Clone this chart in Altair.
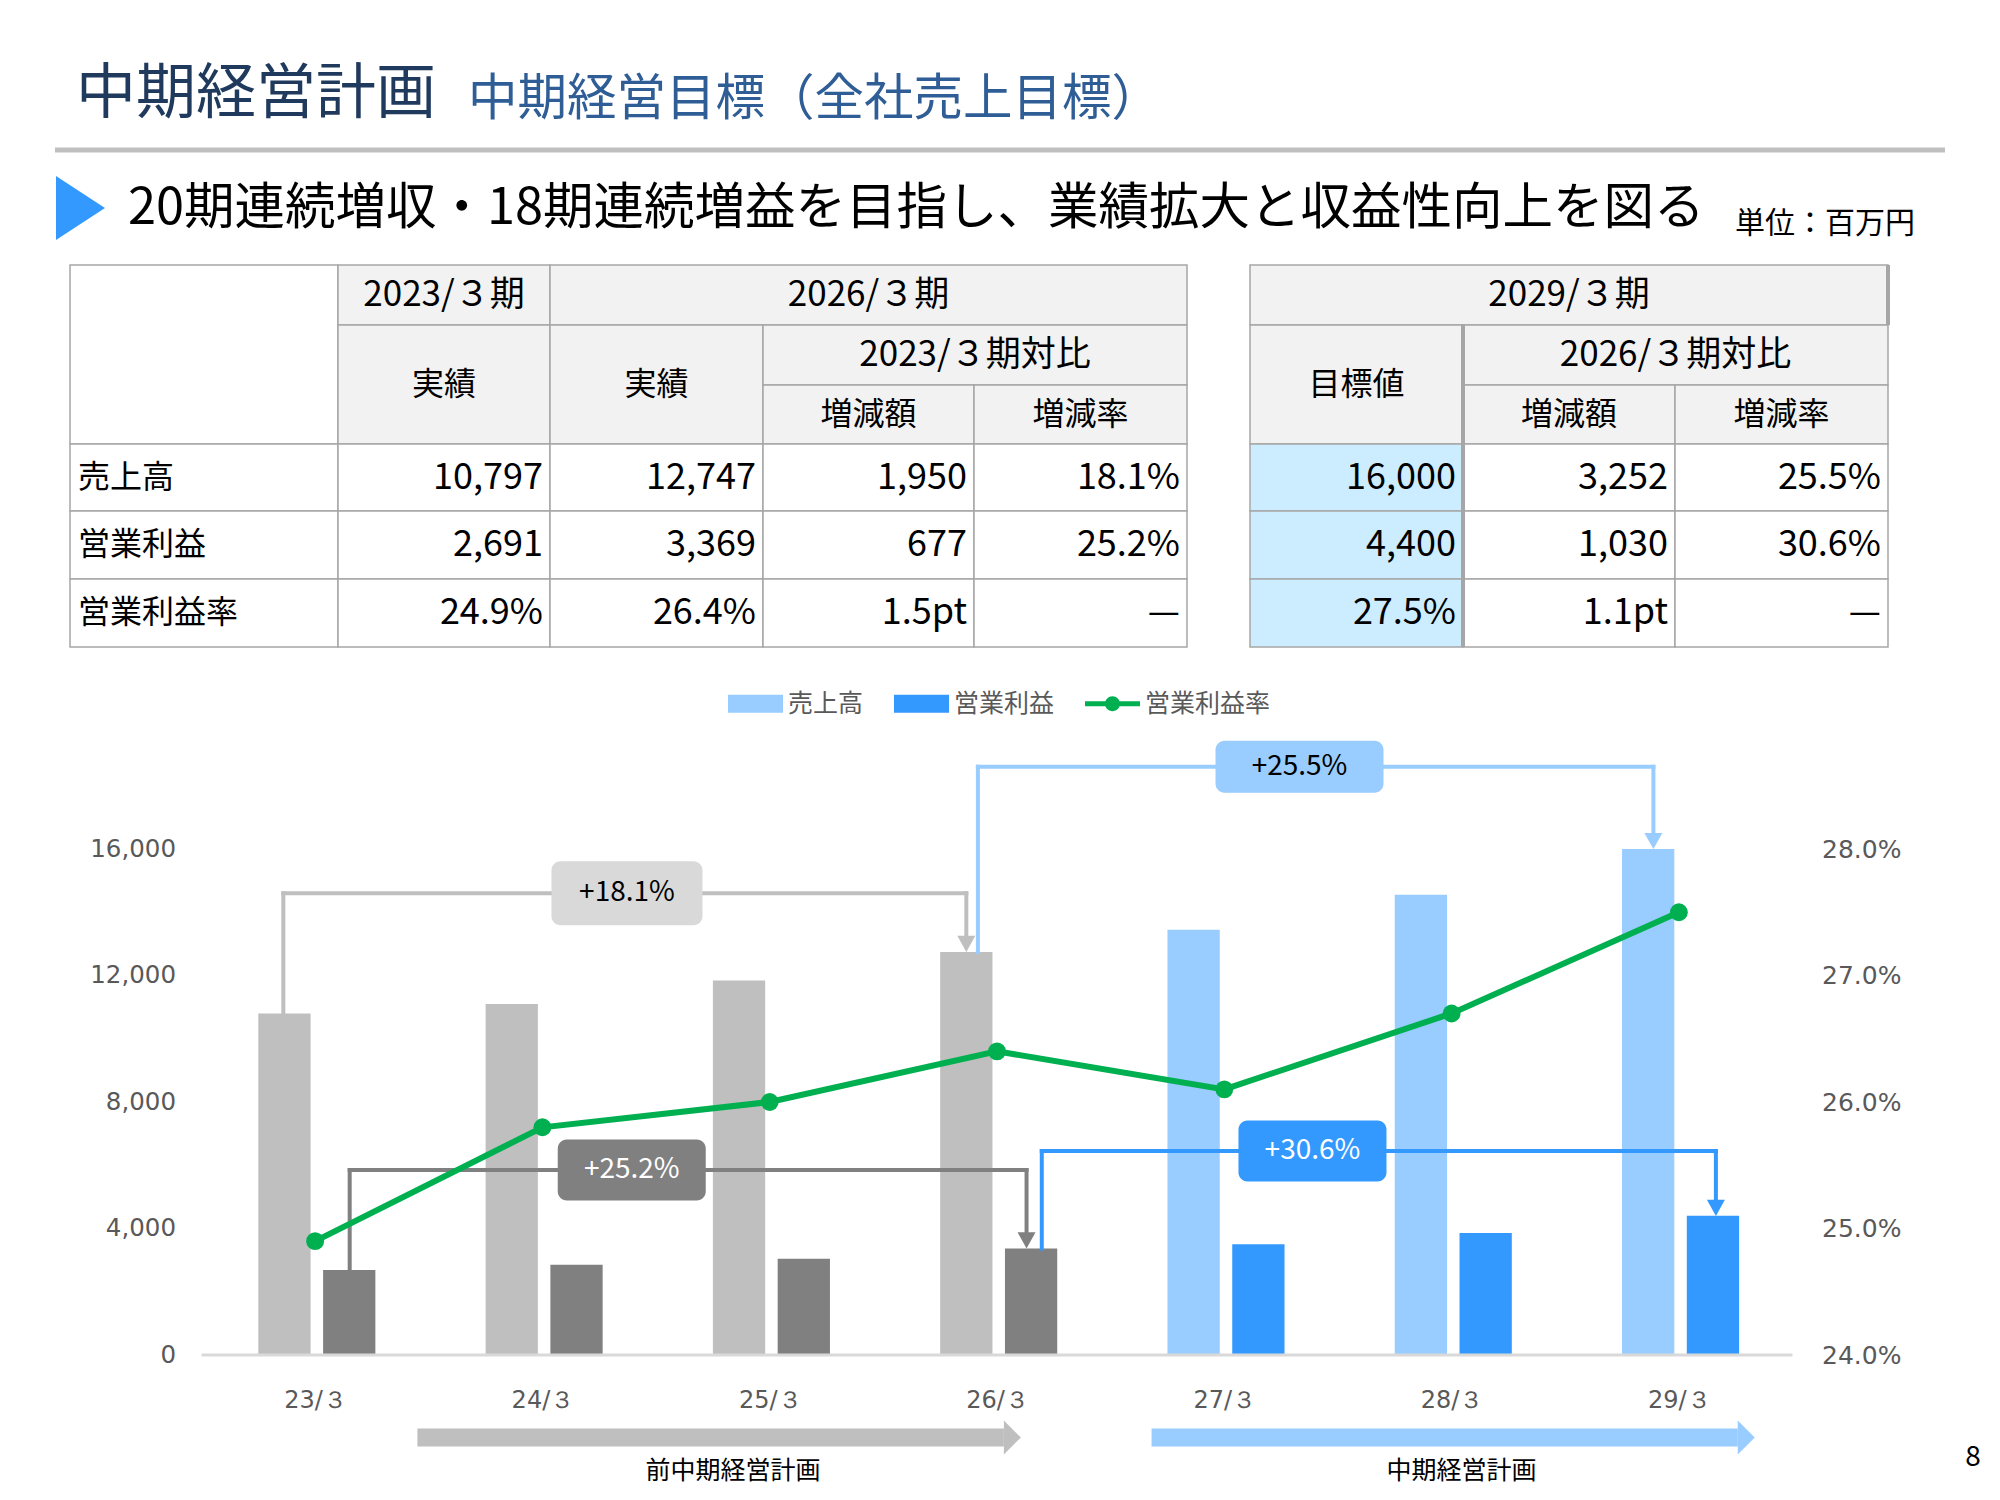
import altair as alt
import pandas as pd

# ------------------------------------------------------------------ chart data
periods = ["23/３", "24/３", "25/３", "26/３", "27/３", "28/３", "29/３"]
sales = [10797, 11100, 11840, 12747, 13450, 14550, 16000]
op_profit = [2691, 2850, 3040, 3369, 3500, 3860, 4400]
op_margin = [24.9, 25.8, 26.0, 26.4, 26.1, 26.7, 27.5]
plan_flags = [False, False, False, False, True, True, True]

series_names = ["売上高", "営業利益", "営業利益率"]

growth_labels = ["+18.1%", "+25.2%", "+25.5%", "+30.6%"]
growth_series = ["sales", "op", "sales", "op"]
growth_from = [0, 0, 3, 3]
growth_to = [3, 3, 6, 6]

phase_names = ["前中期経営計画", "中期経営計画"]

y_ticks = [0, 4000, 8000, 12000, 16000]
margin_ticks = [24, 25, 26, 27, 28]

# ------------------------------------------------------------------ text / table data
title_main = "中期経営計画"
title_sub = "中期経営目標（全社売上目標）"
headline = "20期連続増収・18期連続増益を目指し、業績拡大と収益性向上を図る"
unit_label = "単位：百万円"
page_no = "8"

row_labels = ["売上高", "営業利益", "営業利益率"]
res_2023 = ["10,797", "2,691", "24.9%"]
res_2026 = ["12,747", "3,369", "26.4%"]
chg_2026 = ["1,950", "677", "1.5pt"]
rate_2026 = ["18.1%", "25.2%", "—"]
target_2029 = ["16,000", "4,400", "27.5%"]
chg_2029 = ["3,252", "1,030", "1.1pt"]
rate_2029 = ["25.5%", "30.6%", "—"]

hdr_2023 = "2023/３期"
hdr_2026 = "2026/３期"
hdr_2029 = "2029/３期"
hdr_result = "実績"
hdr_vs2023 = "2023/３期対比"
hdr_vs2026 = "2026/３期対比"
hdr_target = "目標値"
hdr_chg = "増減額"
hdr_rate = "増減率"

# ------------------------------------------------------------------ layout / style
W, H = 2000, 1500
X0, X1 = 201.5, 1792.5
YZ, YT = 1355.0, 849.0
X_PX = (X1 - X0) / 7
Y_PX = (YZ - YT) / 16000

FONT_JP = "Noto Sans CJK JP"
FONT_AX = "DejaVu Sans"
AX_COLOR = "#595959"

PAST_COLORS = ("#BFBFBF", "#808080")
PLAN_COLORS = ("#99CCFF", "#3399FF")
GREEN = "#00B050"
LIGHT_OFF = (-0.25, -0.02)
DARK_OFF = (0.035, 0.265)

BRACKET_STYLE = [
    dict(from_off=-0.14, to_off=-0.135, level=14600, line="#BFBFBF", box="#D9D9D9", text="#000000", bx=1.372, bw=151, bh=64),
    dict(from_off=0.152, to_off=0.13, level=5850, line="#808080", box="#808080", text="#FFFFFF", bx=1.393, bw=148, bh=61),
    dict(from_off=-0.084, to_off=-0.112, level=18600, line="#99CCFF", box="#99CCFF", text="#000000", bx=4.331, bw=168, bh=52),
    dict(from_off=0.197, to_off=0.163, level=6450, line="#3399FF", box="#3399FF", text="#FFFFFF", bx=4.388, bw=148, bh=61),
]

PHASE_SPANS = [(0.45, 3.105), (3.68, 6.334)]
PHASE_COLORS = ["#BFBFBF", "#99CCFF"]
PHASE_LABEL_X = [1.838, 5.044]
HEAD_LEN = 17 / X_PX
ARROW_Y = -(1437.5 - YZ) / Y_PX
PHASE_LABEL_Y = -(1471 - YZ) / Y_PX

DOWN_PATH = "M-1,-0.9L1,-0.9L0,0.9Z"
RIGHT_PATH = "M-0.5,-1L0.5,0L-0.5,1Z"
RECT_PATH = "M-1,-0.33H1V0.33H-1Z"
LINE_DOT_PATH = "M-1,-0.09H1V0.09H-1Z M-0.27,0A0.27,0.27 0 1,1 0.27,0A0.27,0.27 0 1,1 -0.27,0Z"
TRI_PATH = "M-0.766,-1L0.766,0L-0.766,1Z"

COLS = [70, 338, 550, 763, 974, 1187, 1250, 1463, 1675, 1888]
ROWS = [265, 325, 385, 444, 511, 579, 647]
HDR_FILL = "#F2F2F2"
BLUE_CELL = "#CCECFF"
GRID = "#A6A6A6"
TABLE_FS = 32
TABLE_NUM_FS = 36
TABLE_HDR_NUM_FS = 35


def xs():
    return alt.Scale(domain=[-0.5, 6.5], range=[X0, X1], nice=False, zero=False)


def ys():
    return alt.Scale(domain=[0, 16000], range=[YZ, YT], nice=False, zero=False)


def yr():
    return alt.Scale(domain=[24, 28], range=[YZ, YT], nice=False, zero=False)


def pxs():
    return alt.Scale(domain=[0, W], range=[0, W], nice=False, zero=False)


def pys():
    return alt.Scale(domain=[0, H], range=[0, H], nice=False, zero=False)


def one_text(txt, x, y, size, color, align="left", font=FONT_JP):
    return alt.Chart(pd.DataFrame({"t": [txt]})).mark_text(
        align=align, baseline="middle", font=font, fontSize=size, color=color
    ).encode(x=alt.value(x), y=alt.value(y), text="t:N")


def table_text(df, size, align):
    return alt.Chart(df).mark_text(font=FONT_JP, fontSize=size, color="#000000", baseline="middle", align=align).encode(
        x=alt.X("x:Q", scale=pxs(), axis=None), y=alt.Y("y:Q", scale=pys(), axis=None), text="t:N")


layers = []

# ------------------------------------------------------------------ slide header
layers.append(one_text(title_main, 76, 95, 60, "#203A5E"))
layers.append(one_text(title_sub, 468, 100, 49.5, "#2F5D96"))
layers.append(
    alt.Chart(pd.DataFrame({"k": [0]})).mark_rule(color="#BFBFBF", strokeWidth=5)
    .encode(x=alt.value(55), x2=alt.value(1945), y=alt.value(150))
)
layers.append(
    alt.Chart(pd.DataFrame({"k": [0]})).mark_point(shape=TRI_PATH, filled=True, size=4096, color="#3399FF", opacity=1, strokeWidth=0)
    .encode(x=alt.value(80.5), y=alt.value(208))
)
layers.append(one_text(headline, 128, 209, 50.5, "#000000"))
layers.append(one_text(unit_label, 1735, 224, 30, "#000000"))
layers.append(one_text(page_no, 1973, 1458, 28, "#000000", align="center"))

# ------------------------------------------------------------------ tables
cells = [(0, 1, 0, 3, "#FFFFFF"),
         (1, 2, 0, 1, HDR_FILL), (2, 5, 0, 1, HDR_FILL), (1, 2, 1, 3, HDR_FILL), (2, 3, 1, 3, HDR_FILL),
         (3, 5, 1, 2, HDR_FILL), (3, 4, 2, 3, HDR_FILL), (4, 5, 2, 3, HDR_FILL),
         (6, 9, 0, 1, HDR_FILL), (6, 7, 1, 3, HDR_FILL), (7, 9, 1, 2, HDR_FILL),
         (7, 8, 2, 3, HDR_FILL), (8, 9, 2, 3, HDR_FILL)]
for r in range(3):
    for c in range(5):
        cells.append((c, c + 1, 3 + r, 4 + r, "#FFFFFF"))
    cells.append((6, 7, 3 + r, 4 + r, BLUE_CELL))
    cells.append((7, 8, 3 + r, 4 + r, "#FFFFFF"))
    cells.append((8, 9, 3 + r, 4 + r, "#FFFFFF"))
cell_df = pd.DataFrame([dict(xa=COLS[a], xb=COLS[b], ya=ROWS[c], yb=ROWS[d], fill=f) for a, b, c, d, f in cells])
layers.append(
    alt.Chart(cell_df).mark_rect(stroke=GRID, strokeWidth=1.5).encode(
        x=alt.X("xa:Q", scale=pxs(), axis=None), x2="xb:Q",
        y=alt.Y("ya:Q", scale=pys(), axis=None), y2="yb:Q",
        color=alt.Color("fill:N", scale=None))
)
thick_df = pd.DataFrame([dict(xa=COLS[7], ya=ROWS[1], yb=ROWS[6]), dict(xa=COLS[9], ya=ROWS[0], yb=ROWS[1])])
layers.append(
    alt.Chart(thick_df).mark_rule(color=GRID, strokeWidth=4).encode(
        x=alt.X("xa:Q", scale=pxs(), axis=None),
        y=alt.Y("ya:Q", scale=pys(), axis=None), y2="yb:Q")
)

hdr_num_texts = [(hdr_2023, 1, 2, 0, 1), (hdr_2026, 2, 5, 0, 1), (hdr_vs2023, 3, 5, 1, 2),
                 (hdr_2029, 6, 9, 0, 1), (hdr_vs2026, 7, 9, 1, 2)]
hdr_jp_texts = [(hdr_result, 1, 2, 1, 3), (hdr_result, 2, 3, 1, 3), (hdr_chg, 3, 4, 2, 3), (hdr_rate, 4, 5, 2, 3),
                (hdr_target, 6, 7, 1, 3), (hdr_chg, 7, 8, 2, 3), (hdr_rate, 8, 9, 2, 3)]


def hdr_frame(items):
    return pd.DataFrame([dict(x=(COLS[a] + COLS[b]) / 2, y=(ROWS[c] + ROWS[d]) / 2, t=t) for t, a, b, c, d in items])


layers.append(table_text(hdr_frame(hdr_num_texts), TABLE_HDR_NUM_FS, "center"))
layers.append(table_text(hdr_frame(hdr_jp_texts), TABLE_FS, "center"))
lab_df = pd.DataFrame([dict(x=COLS[0] + 8, y=(ROWS[3 + r] + ROWS[4 + r]) / 2, t=row_labels[r]) for r in range(3)])
layers.append(table_text(lab_df, TABLE_FS, "left"))
val_rows = []
for c, colvals in zip([1, 2, 3, 4, 6, 7, 8], [res_2023, res_2026, chg_2026, rate_2026, target_2029, chg_2029, rate_2029]):
    for r in range(3):
        val_rows.append(dict(x=COLS[c + 1] - 7, y=(ROWS[3 + r] + ROWS[4 + r]) / 2, t=colvals[r]))
layers.append(table_text(pd.DataFrame(val_rows), TABLE_NUM_FS, "right"))

# ------------------------------------------------------------------ legend (invisible points carrying the legend)
leg_df = pd.DataFrame({"series": series_names, "idx": [0, 0, 0], "v": [0, 0, 0]})
leg = alt.Legend(orient="none", legendX=728, legendY=676, direction="horizontal", title=None,
                 labelFont=FONT_JP, labelFontSize=25, labelColor=AX_COLOR, symbolSize=3025,
                 symbolStrokeWidth=0, columnPadding=30, labelOffset=5, symbolOpacity=1)
layers.append(
    alt.Chart(leg_df).mark_point(filled=True, opacity=0).encode(
        x=alt.X("idx:Q", scale=xs(), axis=None), y=alt.Y("v:Q", scale=ys(), axis=None),
        color=alt.Color("series:N", scale=alt.Scale(domain=series_names, range=["#99CCFF", "#3399FF", GREEN]), legend=leg),
        shape=alt.Shape("series:N", scale=alt.Scale(domain=series_names, range=[RECT_PATH, RECT_PATH, LINE_DOT_PATH]), legend=leg))
)

# ------------------------------------------------------------------ bars
bars_rows = []
for i in range(len(periods)):
    light, dark = PLAN_COLORS if plan_flags[i] else PAST_COLORS
    bars_rows.append(dict(xa=i + LIGHT_OFF[0], xb=i + LIGHT_OFF[1], v=sales[i], base=0, fill=light))
    bars_rows.append(dict(xa=i + DARK_OFF[0], xb=i + DARK_OFF[1], v=op_profit[i], base=0, fill=dark))
bars_df = pd.DataFrame(bars_rows)
left_axis = alt.Axis(orient="left", values=y_ticks, labelExpr="format(datum.value, ',')", offset=-X0,
                     labelPadding=26, domain=False, ticks=False, tickSize=0, grid=False, labelFont=FONT_AX,
                     labelFontSize=24.5, labelColor=AX_COLOR, title=None)
layers.append(
    alt.Chart(bars_df).mark_bar().encode(
        x=alt.X("xa:Q", scale=xs(), axis=None), x2="xb:Q",
        y=alt.Y("v:Q", scale=ys(), axis=left_axis), y2="base:Q",
        color=alt.Color("fill:N", scale=None))
)
layers.append(
    alt.Chart(pd.DataFrame({"xa": [-0.5], "xb": [6.5], "v": [0]})).mark_rule(color="#D9D9D9", strokeWidth=3).encode(
        x=alt.X("xa:Q", scale=xs(), axis=None), x2="xb:Q", y=alt.Y("v:Q", scale=ys(), axis=None))
)

# ------------------------------------------------------------------ growth brackets
series_vals = {"sales": sales, "op": op_profit}
seg_rows, head_rows, box_rows = [], [], []
for k, lab in enumerate(growth_labels):
    st = BRACKET_STYLE[k]
    fx = growth_from[k] + st["from_off"]
    tx = growth_to[k] + st["to_off"]
    fv = series_vals[growth_series[k]][growth_from[k]]
    tv = series_vals[growth_series[k]][growth_to[k]]
    lv = st["level"]
    c = st["line"]
    seg_rows += [dict(xa=fx, xb=fx, ya=fv, yb=lv, c=c),
                 dict(xa=fx, xb=tx, ya=lv, yb=lv, c=c),
                 dict(xa=tx, xb=tx, ya=lv, yb=tv + 8 / Y_PX, c=c)]
    head_rows.append(dict(x=tx, y=tv, c=c))
    hw = st["bw"] / 2 / X_PX
    hh = st["bh"] / 2 / Y_PX
    box_rows.append(dict(xa=st["bx"] - hw, xb=st["bx"] + hw, ya=lv - hh, yb=lv + hh, fill=st["box"],
                         xc=st["bx"], yc=lv, label=lab, tc=st["text"]))
seg_df = pd.DataFrame(seg_rows)
head_df = pd.DataFrame(head_rows)
box_df = pd.DataFrame(box_rows)
layers.append(
    alt.Chart(seg_df).mark_rule(strokeWidth=4, strokeCap="square").encode(
        x=alt.X("xa:Q", scale=xs(), axis=None), x2="xb:Q",
        y=alt.Y("ya:Q", scale=ys(), axis=None), y2="yb:Q",
        color=alt.Color("c:N", scale=None))
)
layers.append(
    alt.Chart(head_df).mark_point(shape=DOWN_PATH, filled=True, size=324, yOffset=-8, opacity=1, strokeWidth=0).encode(
        x=alt.X("x:Q", scale=xs(), axis=None), y=alt.Y("y:Q", scale=ys(), axis=None),
        color=alt.Color("c:N", scale=None))
)
layers.append(
    alt.Chart(box_df).mark_rect(cornerRadius=9).encode(
        x=alt.X("xa:Q", scale=xs(), axis=None), x2="xb:Q",
        y=alt.Y("ya:Q", scale=ys(), axis=None), y2="yb:Q",
        color=alt.Color("fill:N", scale=None))
)
layers.append(
    alt.Chart(box_df).mark_text(font=FONT_JP, fontSize=28, baseline="middle", align="center").encode(
        x=alt.X("xc:Q", scale=xs(), axis=None), y=alt.Y("yc:Q", scale=ys(), axis=None),
        text="label:N", color=alt.Color("tc:N", scale=None))
)

# ------------------------------------------------------------------ margin line
margin_df = pd.DataFrame({"idx": list(range(len(periods))), "m": op_margin})
x_label_expr = "[" + ",".join("'" + p + "'" for p in periods) + "][datum.value]"
x_axis = alt.Axis(orient="bottom", values=list(range(len(periods))), labelExpr=x_label_expr, offset=-(H - YZ),
                  labelPadding=33, domain=False, ticks=False, tickSize=0, grid=False, labelFont=FONT_AX,
                  labelFontSize=24, labelColor=AX_COLOR, labelFlush=False, title=None)
right_axis = alt.Axis(orient="right", values=margin_ticks, labelExpr="format(datum.value, '.1f') + '%'",
                      offset=-(W - X1), labelPadding=29, domain=False, ticks=False, tickSize=0, grid=False,
                      labelFont=FONT_AX, labelFontSize=25, labelColor=AX_COLOR, title=None)
layers.append(
    alt.Chart(margin_df).mark_line(color=GREEN, strokeWidth=6).encode(
        x=alt.X("idx:Q", scale=xs(), axis=x_axis), y=alt.Y("m:Q", scale=yr(), axis=right_axis))
)
layers.append(
    alt.Chart(margin_df).mark_circle(color=GREEN, size=320, opacity=1).encode(
        x=alt.X("idx:Q", scale=xs(), axis=None), y=alt.Y("m:Q", scale=yr(), axis=None))
)

# ------------------------------------------------------------------ phase arrows
phase_df = pd.DataFrame([dict(xa=s, xb=t - HEAD_LEN, xh=t - HEAD_LEN / 2, y=ARROW_Y, c=PHASE_COLORS[i],
                              lx=PHASE_LABEL_X[i], ly=PHASE_LABEL_Y, name=phase_names[i])
                         for i, (s, t) in enumerate(PHASE_SPANS)])
layers.append(
    alt.Chart(phase_df).mark_rule(strokeWidth=18).encode(
        x=alt.X("xa:Q", scale=xs(), axis=None), x2="xb:Q", y=alt.Y("y:Q", scale=ys(), axis=None),
        color=alt.Color("c:N", scale=None))
)
layers.append(
    alt.Chart(phase_df).mark_point(shape=RIGHT_PATH, filled=True, size=1156, opacity=1, strokeWidth=0).encode(
        x=alt.X("xh:Q", scale=xs(), axis=None), y=alt.Y("y:Q", scale=ys(), axis=None),
        color=alt.Color("c:N", scale=None))
)
layers.append(
    alt.Chart(phase_df).mark_text(font=FONT_JP, fontSize=25, color="#000000", baseline="middle", align="center").encode(
        x=alt.X("lx:Q", scale=xs(), axis=None), y=alt.Y("ly:Q", scale=ys(), axis=None), text="name:N")
)

chart = alt.layer(*layers).resolve_scale(
    x="independent", y="independent", color="independent", shape="independent"
).properties(
    width=W, height=H, autosize=alt.AutoSizeParams(type="none"), padding=0, background="white"
).configure_view(stroke=None)

chart.save("out.html", embed_options={"renderer": "svg", "actions": False})
